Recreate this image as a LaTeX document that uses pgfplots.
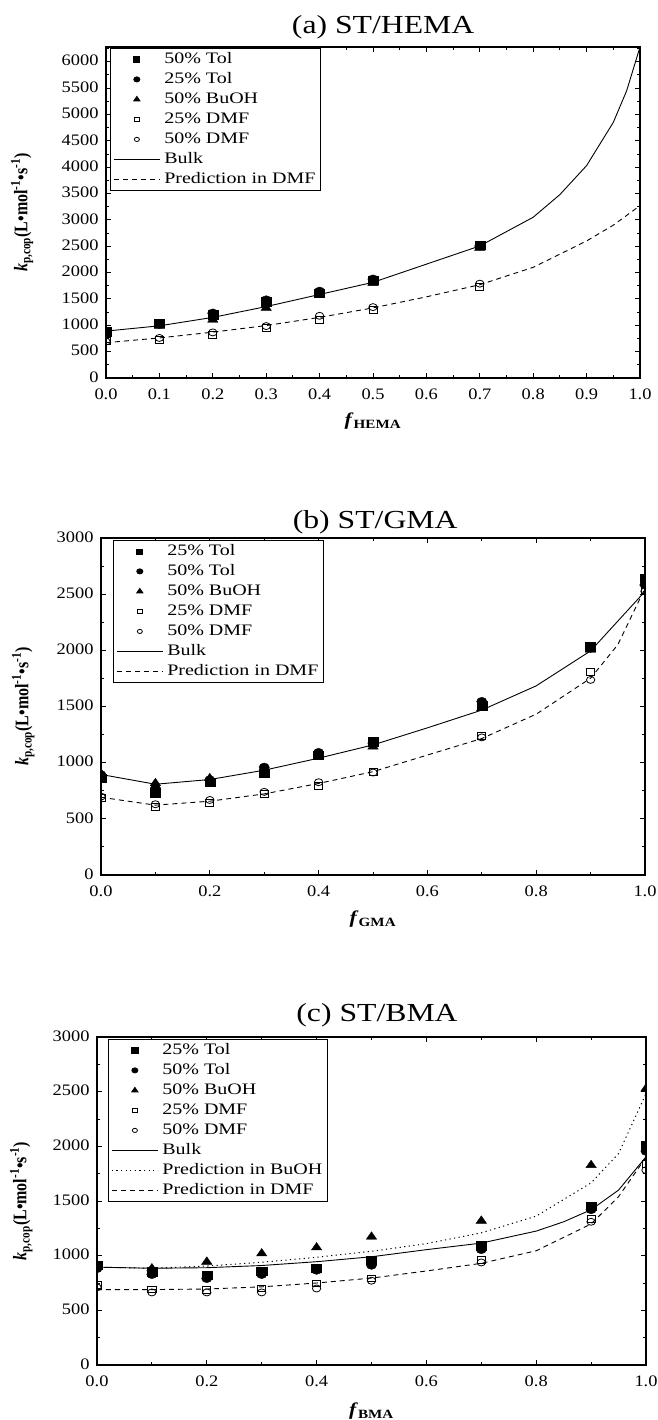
\documentclass[border=0pt]{standalone}
\usepackage{fontspec}
\setmainfont{Liberation Serif}
\usepackage{graphicx}
\usepackage{pgfplots}
\pgfplotsset{compat=1.18}

\pgfplotsset{
 kpstyle/.style={
  scale only axis,
  xmin=0, xmax=1, ymin=0,
  axis line style={line width=1.4pt},
  major tick length=5pt, minor tick length=3pt,
  every tick/.style={black, line width=0.9pt},
  tick align=inside,
  minor x tick num=1, minor y tick num=1,
  ytick distance=500,
  /pgf/number format/assume math mode=true,
  tick label style={font=\fontsize{16}{18}\selectfont, xscale=1.15},
  x tick label style={yshift=-7pt, /pgf/number format/.cd, fixed, fixed zerofill, precision=1},
  y tick label style={xshift=-3pt, yshift=1pt, /pgf/number format/.cd, fixed, 1000 sep={}},
  clip marker paths=true,
  legend cell align=left,
  legend style={anchor=north west, draw=black, line width=0.8pt, font=\fontsize{16}{18}\selectfont, inner xsep=3pt, inner ysep=1pt, column sep=2pt, nodes={inner sep=2pt, text height=12pt, text depth=4pt}},
  legend image code/.code={\draw[mark repeat=2, mark phase=2, #1, every mark/.append style={scale=0.6}] plot coordinates {(0pt,0pt) (23pt,0pt) (46pt,0pt)};},
  every axis title/.style={anchor=center, font=\fontsize{26}{30}\selectfont, xscale=1.22},
  every axis y label/.style={rotate=90, yscale=1.2, anchor=center, font=\fontsize{16}{18}\selectfont},
  every axis x label/.style={anchor=center, font=\fontsize{18}{20}\selectfont, xscale=1.2},
  ylabel={\textbf{\textit{k}}\textsubscript{\textbf{p,cop}}\textbf{(L•mol\textsuperscript{-1}•s\textsuperscript{-1})}},
 },
 fsq/.style={only marks, mark=square*, mark size=4.2pt, mark options={fill=black, xscale=1.2}},
 fci/.style={only marks, mark=*, mark size=4.3pt, mark options={fill=black, xscale=1.2}},
 ftr/.style={only marks, mark=triangle*, mark size=5pt, mark options={fill=black, xscale=1.2}},
 osq/.style={only marks, mark=square, mark size=3.4pt, mark options={line width=0.8pt, xscale=1.2}},
 oci/.style={only marks, mark=o, mark size=3.5pt, mark options={line width=0.8pt, xscale=1.2}},
 bulk/.style={no marks, solid, line width=0.9pt},
 pdmf/.style={no marks, dash pattern=on 5pt off 4pt, line width=0.9pt},
 pbuoh/.style={no marks, dash pattern=on 1.2pt off 3.4pt, line width=1pt},
}

\begin{document}
\begin{tikzpicture}
\useasboundingbox (0,0) rectangle (657pt,-1420pt);

% ---------------- (a) ST/HEMA ----------------
\begin{axis}[kpstyle, at={(106pt,-47pt)}, anchor=north west,
  width=534pt, height=331pt, ymax=6280,
  xtick={0,0.1,0.2,0.3,0.4,0.5,0.6,0.7,0.8,0.9,1},
  title={(a) ST/HEMA},
  title style={at={(axis description cs:0.519,1)}, yshift=20pt},
  ylabel style={at={(axis description cs:-0.157,0.5)}},
  xlabel={\textbf{\textit{f}}\textsubscript{\textbf{HEMA}}},
  xlabel style={at={(axis description cs:0.5,0)}, yshift=-43pt},
  legend style={at={(axis description cs:0.0075,0.997)}},
]
\addplot[fsq] coordinates {(0,880) (0.1,1040) (0.2,1200) (0.3,1450) (0.4,1610) (0.5,1860) (0.7,2525)};
\addlegendentry{\scalebox{1.25}[1]{50\% Tol}}
\addplot[fci] coordinates {(0,890) (0.1,1020) (0.2,1230) (0.3,1480) (0.4,1645) (0.5,1875) (0.7,2505)};
\addlegendentry{\scalebox{1.25}[1]{25\% Tol}}
\addplot[ftr] coordinates {(0,885) (0.1,990) (0.2,1105) (0.3,1330) (0.4,1585) (0.5,1800) (0.7,2470)};
\addlegendentry{\scalebox{1.25}[1]{50\% BuOH}}
\addplot[osq] coordinates {(0,700) (0.1,730) (0.2,820) (0.3,950) (0.4,1100) (0.5,1295) (0.7,1725)};
\addlegendentry{\scalebox{1.25}[1]{25\% DMF}}
\addplot[oci] coordinates {(0,690) (0.1,760) (0.2,865) (0.3,985) (0.4,1180) (0.5,1345) (0.7,1790)};
\addlegendentry{\scalebox{1.25}[1]{50\% DMF}}
\addplot[bulk] coordinates {(0,890) (0.1,990) (0.2,1150) (0.3,1355) (0.4,1585) (0.5,1815) (0.6,2160) (0.7,2505) (0.8,3050) (0.85,3480) (0.9,4030) (0.95,4850) (0.975,5450) (1.0,6280)};
\addlegendentry{\scalebox{1.25}[1]{Bulk}}
\addplot[pdmf] coordinates {(0,670) (0.1,760) (0.2,870) (0.3,995) (0.4,1150) (0.5,1330) (0.6,1540) (0.7,1770) (0.8,2100) (0.9,2600) (0.95,2900) (1.0,3270)};
\addlegendentry{\scalebox{1.25}[1]{Prediction in DMF}}
\end{axis}

% ---------------- (b) ST/GMA ----------------
\begin{axis}[kpstyle, at={(101pt,-538pt)}, anchor=north west,
  width=544pt, height=337pt, ymax=3000,
  xtick={0,0.2,0.4,0.6,0.8,1},
  title={(b) ST/GMA},
  title style={at={(axis description cs:0.504,1)}, yshift=16pt},
  ylabel style={at={(axis description cs:-0.143,0.5)}},
  xlabel={\textbf{\textit{f}}\textsubscript{\textbf{GMA}}},
  xlabel style={at={(axis description cs:0.5,0)}, yshift=-44pt},
  legend style={at={(axis description cs:0.022,0.994)}},
]
\addplot[fsq] coordinates {(0,861) (0.1,734) (0.2,826) (0.3,906) (0.4,1069) (0.5,1188) (0.7,1506) (0.9,2034) (1,2640)};
\addlegendentry{\scalebox{1.25}[1]{25\% Tol}}
\addplot[fci] coordinates {(0,891) (0.1,772) (0.2,846) (0.3,959) (0.4,1090) (0.5,1173) (0.7,1544) (0.9,2020) (1,2584)};
\addlegendentry{\scalebox{1.25}[1]{50\% Tol}}
\addplot[ftr] coordinates {(0,905) (0.1,817) (0.2,861) (0.3,921) (0.4,1048) (0.5,1143) (0.7,1485) (0.9,2005) (1,2600)};
\addlegendentry{\scalebox{1.25}[1]{50\% BuOH}}
\addplot[osq] coordinates {(0,683) (0.1,609) (0.2,645) (0.3,719) (0.4,796) (0.5,921) (0.7,1241) (0.9,1806) (1,2540)};
\addlegendentry{\scalebox{1.25}[1]{25\% DMF}}
\addplot[oci] coordinates {(0,698) (0.1,630) (0.2,668) (0.3,740) (0.4,826) (0.5,912) (0.7,1225) (0.9,1737) (1,2525)};
\addlegendentry{\scalebox{1.25}[1]{50\% DMF}}
\addplot[bulk] coordinates {(0,895) (0.1,808) (0.2,850) (0.3,933) (0.4,1040) (0.5,1158) (0.6,1310) (0.7,1468) (0.8,1684) (0.9,1995) (1.0,2525)};
\addlegendentry{\scalebox{1.25}[1]{Bulk}}
\addplot[pdmf] coordinates {(0,692) (0.1,622) (0.2,657) (0.3,722) (0.4,815) (0.5,920) (0.6,1068) (0.7,1215) (0.8,1432) (0.9,1752) (0.95,2050) (1.0,2554)};
\addlegendentry{\scalebox{1.25}[1]{Prediction in DMF}}
\end{axis}

% ---------------- (c) ST/BMA ----------------
\begin{axis}[kpstyle, at={(97pt,-1037pt)}, anchor=north west,
  width=549pt, height=328pt, ymax=3000,
  xtick={0,0.2,0.4,0.6,0.8,1},
  title={(c) ST/BMA},
  title style={at={(axis description cs:0.51,1)}, yshift=22pt},
  ylabel style={at={(axis description cs:-0.138,0.5)}},
  xlabel={\textbf{\textit{f}}\textsubscript{\textbf{BMA}}},
  xlabel style={at={(axis description cs:0.5,0)}, yshift=-46pt},
  legend style={at={(axis description cs:0.02,0.994)}},
]
\addplot[fsq] coordinates {(0,914) (0.1,853) (0.2,822) (0.3,859) (0.4,883) (0.5,960) (0.7,1090) (0.9,1453) (1,2010)};
\addlegendentry{\scalebox{1.25}[1]{25\% Tol}}
\addplot[fci] coordinates {(0,883) (0.1,829) (0.2,792) (0.3,829) (0.4,868) (0.5,914) (0.7,1057) (0.9,1422) (1,1956)};
\addlegendentry{\scalebox{1.25}[1]{50\% Tol}}
\addplot[ftr] coordinates {(0,900) (0.1,883) (0.2,944) (0.3,1020) (0.4,1075) (0.5,1173) (0.7,1319) (0.9,1828) (1,2528)};
\addlegendentry{\scalebox{1.25}[1]{50\% BuOH}}
\addplot[osq] coordinates {(0,731) (0.1,691) (0.2,685) (0.3,700) (0.4,746) (0.5,792) (0.7,960) (0.9,1334) (1,1843)};
\addlegendentry{\scalebox{1.25}[1]{25\% DMF}}
\addplot[oci] coordinates {(0,710) (0.1,664) (0.2,664) (0.3,664) (0.4,700) (0.5,771) (0.7,938) (0.9,1310) (1,1782)};
\addlegendentry{\scalebox{1.25}[1]{50\% DMF}}
\addplot[bulk] coordinates {(0,895) (0.1,885) (0.2,890) (0.3,910) (0.4,945) (0.5,990) (0.6,1055) (0.7,1115) (0.8,1225) (0.85,1310) (0.9,1420) (0.95,1600) (1.0,1904)};
\addlegendentry{\scalebox{1.25}[1]{Bulk}}
\addplot[pbuoh] coordinates {(0,895) (0.1,885) (0.2,905) (0.3,940) (0.4,985) (0.5,1040) (0.6,1110) (0.7,1209) (0.8,1362) (0.9,1666) (0.95,1934) (1.0,2482)};
\addlegendentry{\scalebox{1.25}[1]{Prediction in BuOH}}
\addplot[pdmf] coordinates {(0,690) (0.1,690) (0.2,695) (0.3,715) (0.4,750) (0.5,795) (0.6,860) (0.7,930) (0.8,1045) (0.9,1290) (0.95,1540) (1.0,1900)};
\addlegendentry{\scalebox{1.25}[1]{Prediction in DMF}}
\end{axis}
\end{tikzpicture}
\end{document}
